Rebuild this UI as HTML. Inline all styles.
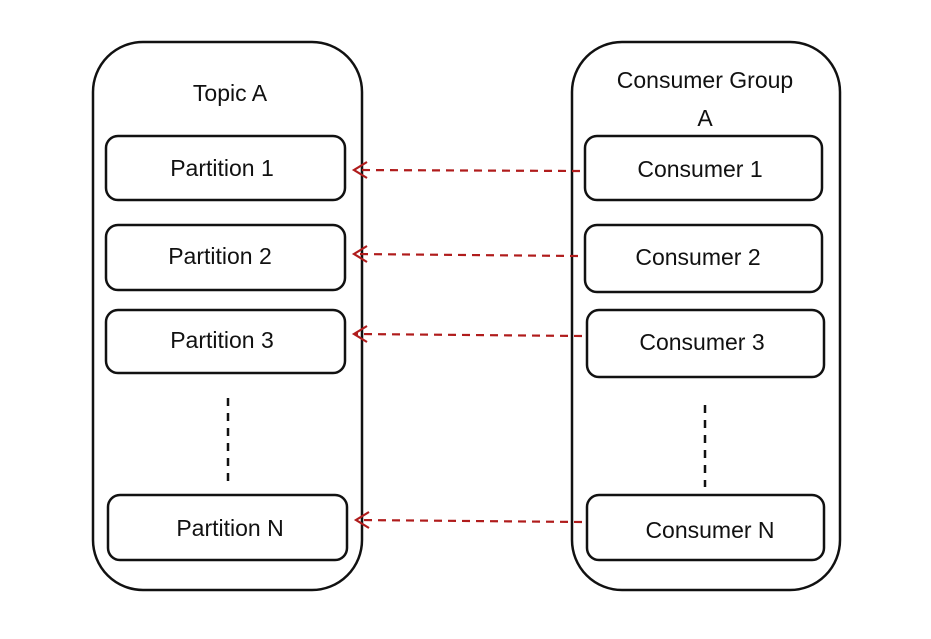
<!DOCTYPE html>
<html><head><meta charset="utf-8"><style>
html,body{margin:0;padding:0;background:#fff;}
svg text{font-family:"Liberation Sans",sans-serif;font-size:23px;fill:#111;font-weight:500;}
</style></head><body>
<svg width="931" height="634" viewBox="0 0 931 634" xmlns="http://www.w3.org/2000/svg">
<g fill="none" stroke="#111" stroke-width="2.5">
<rect x="93" y="42" width="269" height="548" rx="50"/>
<rect x="572" y="42" width="268" height="548" rx="50"/>
<rect x="106" y="136" width="239" height="64" rx="12"/>
<rect x="106" y="225" width="239" height="65" rx="12"/>
<rect x="106" y="310" width="239" height="63" rx="12"/>
<rect x="108" y="495" width="239" height="65" rx="12"/>
<rect x="585" y="136" width="237" height="64" rx="12"/>
<rect x="585" y="225" width="237" height="67" rx="12"/>
<rect x="587" y="310" width="237" height="67" rx="12"/>
<rect x="587" y="495" width="237" height="65" rx="12"/>
<line x1="228" y1="398" x2="228" y2="482" stroke-dasharray="8,7"/>
<line x1="705" y1="405" x2="705" y2="487" stroke-dasharray="8,7"/>
</g>
<g fill="none" stroke="#b01c1c" stroke-width="2.2">
<line x1="580" y1="171" x2="355" y2="170" stroke-dasharray="8,6"/>
<line x1="578" y1="256" x2="355" y2="254" stroke-dasharray="8,6"/>
<line x1="582" y1="336" x2="355" y2="334" stroke-dasharray="8,6"/>
<line x1="582" y1="522" x2="357" y2="520" stroke-dasharray="8,6"/>
<path d="M367 162 L354 170 L367 178"/>
<path d="M367 246 L354 254 L367 262"/>
<path d="M367 326 L354 334 L367 342"/>
<path d="M369 512 L356 520 L369 528"/>
</g>
<g text-anchor="middle">
<text x="230" y="101" font-size="27">Topic A</text>
<text x="705" y="88" font-size="26">Consumer Group</text>
<text x="705" y="126" font-size="26">A</text>
<text x="222" y="176">Partition 1</text>
<text x="220" y="264">Partition 2</text>
<text x="222" y="348">Partition 3</text>
<text x="230" y="536">Partition N</text>
<text x="700" y="177">Consumer 1</text>
<text x="698" y="265">Consumer 2</text>
<text x="702" y="350">Consumer 3</text>
<text x="710" y="538">Consumer N</text>
</g>
</svg>
</body></html>
